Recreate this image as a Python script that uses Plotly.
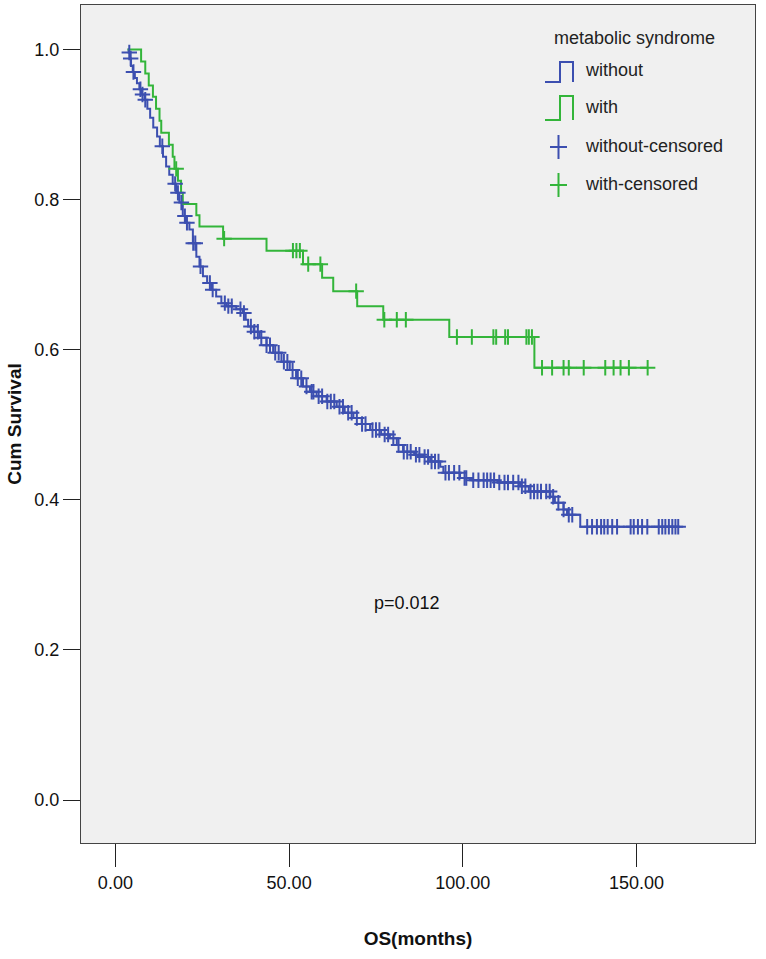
import numpy as np
import plotly.graph_objects as go

# ---------------- data ----------------
# Kaplan-Meier step functions: event times (months) and survival after each step
without_time = [3.5, 3.8, 4.2, 4.5, 5.0, 5.6, 6.2, 6.9, 7.6, 8.4, 9.2, 10.0, 10.9, 12.0, 12.8,
                13.7, 14.6, 15.5, 16.5, 17.5, 18.4, 19.4, 20.3, 21.3, 22.3, 23.3, 24.2, 25.2,
                26.4, 27.6, 29.0, 30.5, 32.0, 34.8, 36.7, 37.5, 38.2, 39.8, 41.5, 43.5, 45.4,
                47.8, 50.2, 52.0, 54.0, 56.0, 57.9, 60.8, 63.7, 66.0, 68.5, 70.9, 73.3, 76.5,
                79.0, 81.0, 82.8, 86.0, 88.6, 90.6, 93.5, 94.4, 99.2, 102.0, 110.0, 116.5,
                119.0, 125.2, 126.5, 129.0, 130.0, 133.8, 162.0]
without_surv = [1.0, 0.996, 0.988, 0.978, 0.970, 0.962, 0.955, 0.947, 0.940, 0.933, 0.921, 0.909,
                0.896, 0.884, 0.871, 0.857, 0.844, 0.833, 0.821, 0.809, 0.796, 0.778, 0.769,
                0.760, 0.742, 0.724, 0.711, 0.698, 0.689, 0.680, 0.671, 0.662, 0.658, 0.654,
                0.649, 0.640, 0.631, 0.624, 0.616, 0.606, 0.596, 0.584, 0.573, 0.562, 0.551,
                0.544, 0.538, 0.531, 0.524, 0.516, 0.509, 0.501, 0.493, 0.487, 0.482, 0.473,
                0.464, 0.460, 0.457, 0.451, 0.444, 0.436, 0.429, 0.426, 0.423, 0.418, 0.411,
                0.404, 0.396, 0.387, 0.380, 0.364, 0.364]
without_censored = [4.0, 4.4, 5.2, 7.2, 7.8, 8.6, 13.5, 17.2, 18.0, 19.0, 20.0, 20.6, 22.4, 23.0,
                    24.5, 27.2, 28.0, 31.5, 32.5, 33.5, 36.0, 37.0, 39.0, 40.0, 41.0, 42.0, 43.5,
                    44.5, 46.0, 47.0, 48.5, 49.5, 51.0, 52.5, 53.5, 55.0, 56.5, 57.0, 58.5, 59.5,
                    61.0, 62.0, 63.0, 64.5, 65.5, 67.0, 68.0, 69.5, 71.0, 72.0, 74.0, 75.0, 76.0,
                    77.5, 78.5, 80.0, 81.5, 83.0, 84.0, 85.0, 86.5, 87.5, 89.0, 90.0, 91.0, 92.0,
                    93.0, 95.0, 96.0, 97.5, 99.0, 100.5, 101.0, 103.0, 104.5, 106.0, 107.0, 108.0,
                    109.0, 110.5, 112.0, 113.0, 114.5, 116.0, 117.0, 118.0, 119.5, 120.5, 121.5,
                    122.5, 124.0, 125.0, 126.0, 127.5, 129.0, 130.5, 131.5, 135.8, 137.2, 138.6,
                    139.8, 140.7, 141.7, 143.0, 144.4, 148.3, 149.2, 150.4, 151.6, 153.1, 156.4,
                    157.4, 158.3, 159.3, 160.3, 161.2, 162.0]

with_time = [3.5, 7.4, 8.6, 9.6, 10.8, 11.7, 12.7, 13.2, 15.4, 16.5, 17.0, 18.0, 18.9, 19.4,
             23.3, 24.2, 31.0, 43.5, 54.0, 59.5, 62.7, 69.6, 77.1, 96.1, 120.6, 153.2]
with_surv = [1.0, 0.984, 0.968, 0.952, 0.937, 0.921, 0.905, 0.889, 0.873, 0.857, 0.841, 0.825,
             0.809, 0.794, 0.779, 0.764, 0.748, 0.732, 0.714, 0.696, 0.678, 0.658, 0.640,
             0.617, 0.576, 0.576]
with_censored = [17.5, 31.3, 51.1, 52.1, 53.1, 55.5, 59.0, 69.3, 77.4, 81.0, 83.6, 98.3, 102.6,
                 108.8, 109.6, 112.2, 113.0, 118.3, 119.0, 119.9, 122.8, 125.7, 129.0, 130.5,
                 134.8, 141.0, 143.4, 145.4, 147.8, 153.2]

x_tick_vals = [0, 50, 100, 150]
x_tick_text = ["0.00", "50.00", "100.00", "150.00"]
y_tick_vals = [0.0, 0.2, 0.4, 0.6, 0.8, 1.0]
y_tick_text = ["0.0", "0.2", "0.4", "0.6", "0.8", "1.0"]

legend_title = "metabolic syndrome"
legend_labels = ["without", "with", "without-censored", "with-censored"]
p_text = "p=0.012"

# ---------------- styling ----------------
BLUE = "#3C4FB0"
GREEN = "#33B53A"
BG = "#F0F0F0"
FONT = "Liberation Sans, Arial, sans-serif"

W, H = 766, 959
ML, MR, MT, MB = 81, 11, 5, 116
PW, PH = W - ML - MR, H - MT - MB


def pxx(xp):
    return (xp - ML) / PW


def pxy(yp):
    return (H - MB - yp) / PH


def surv_at(times, survs, t):
    idx = np.searchsorted(np.asarray(times), np.asarray(t), side="right") - 1
    idx = np.clip(idx, 0, len(survs) - 1)
    return np.asarray(survs)[idx]


fig = go.Figure()

for times, survs, col, name in [
    (without_time, without_surv, BLUE, legend_labels[0]),
    (with_time, with_surv, GREEN, legend_labels[1]),
]:
    fig.add_trace(go.Scatter(x=times, y=survs, mode="lines", line=dict(color=col, width=2, shape="hv"),
                             name=name, showlegend=False, hoverinfo="skip"))

for times, survs, cens, col, name in [
    (without_time, without_surv, without_censored, BLUE, legend_labels[2]),
    (with_time, with_surv, with_censored, GREEN, legend_labels[3]),
]:
    fig.add_trace(go.Scatter(x=cens, y=surv_at(times, survs, cens), mode="markers",
                             marker=dict(symbol="cross-thin", size=11, line=dict(color=col, width=2)),
                             name=name, showlegend=False, hoverinfo="skip"))

# ---------------- custom legend (SPSS style) ----------------
shapes = []
annotations = []
annotations.append(dict(text=legend_title, xref="paper", yref="paper", x=pxx(552), y=pxy(38),
                        xanchor="left", yanchor="middle", showarrow=False,
                        font=dict(family=FONT, size=18, color="#222")))
rows_y = [70, 107, 146, 184]
for lab, yy in zip(legend_labels, rows_y):
    annotations.append(dict(text=lab, xref="paper", yref="paper", x=pxx(583), y=pxy(yy),
                            xanchor="left", yanchor="middle", showarrow=False,
                            font=dict(family=FONT, size=18, color="#222")))
# step icons
for col, top, bot in [(BLUE, 62, 82), (GREEN, 96, 120)]:
    path = "M {a},{b} L {c},{b} L {c},{t} L {d},{t} L {d},{b}".format(
        a=pxx(545), c=pxx(560), d=pxx(573), b=pxy(bot), t=pxy(top))
    shapes.append(dict(type="path", path=path, xref="paper", yref="paper",
                       line=dict(color=col, width=2)))
# plus icons
for col, cy in [(BLUE, 147), (GREEN, 185)]:
    shapes.append(dict(type="line", xref="paper", yref="paper", x0=pxx(550), x1=pxx(567),
                       y0=pxy(cy), y1=pxy(cy), line=dict(color=col, width=2)))
    shapes.append(dict(type="line", xref="paper", yref="paper", x0=pxx(558.5), x1=pxx(558.5),
                       y0=pxy(cy - 12), y1=pxy(cy + 12), line=dict(color=col, width=2)))

annotations.append(dict(text=p_text, x=84, y=0.2625, xref="x", yref="y", showarrow=False,
                        font=dict(family=FONT, size=18, color="#111")))

fig.update_layout(
    width=W, height=H,
    margin=dict(l=ML, r=MR, t=MT, b=MB, pad=0),
    paper_bgcolor="white", plot_bgcolor=BG,
    font=dict(family=FONT, size=18, color="#111"),
    showlegend=False,
    shapes=shapes, annotations=annotations,
)
fig.update_xaxes(range=[-9.9, 184.1], tickvals=x_tick_vals, ticktext=x_tick_text,
                 ticks="outside", ticklen=23, tickwidth=1, tickcolor="#222",
                 showgrid=False, zeroline=False, showline=True, mirror=True,
                 linecolor="#444", linewidth=1, tickfont=dict(size=18, color="#111"),
                 title=dict(text="<b>OS(months)</b>", font=dict(size=19, color="#111"), standoff=40))
fig.update_yaxes(range=[-0.0573, 1.0593], tickvals=y_tick_vals, ticktext=y_tick_text,
                 ticks="outside", ticklen=17, tickwidth=1, tickcolor="#222",
                 showgrid=False, zeroline=False, showline=True, mirror=True,
                 linecolor="#444", linewidth=1, tickfont=dict(size=18, color="#111"),
                 title=dict(text="<b>Cum Survival</b>", font=dict(size=19, color="#111"), standoff=7))

fig.write_html("out.html", config={"displayModeBar": False},
               post_script="document.body.style.margin='0';document.body.style.overflow='hidden';")
